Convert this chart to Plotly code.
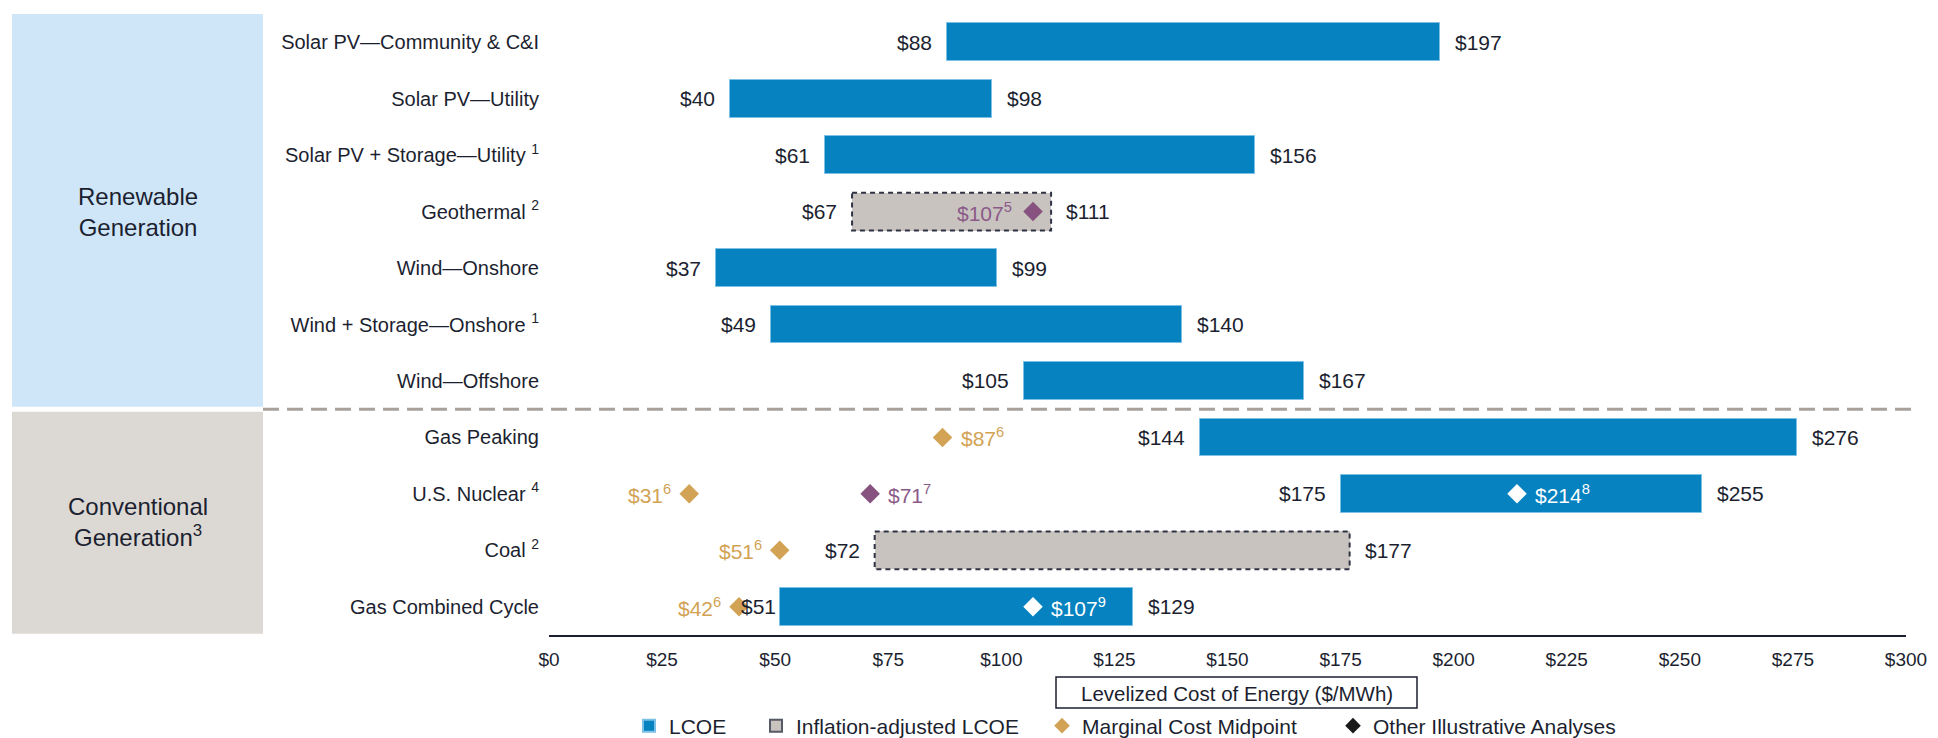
import plotly.graph_objects as go

# ---------------- data ----------------
categories = ["Solar PV—Community & C&I", "Solar PV—Utility", "Solar PV + Storage—Utility",
              "Geothermal", "Wind—Onshore", "Wind + Storage—Onshore", "Wind—Offshore",
              "Gas Peaking", "U.S. Nuclear", "Coal", "Gas Combined Cycle"]
category_notes = ["", "", "1", "2", "", "1", "", "", "4", "2", ""]
lcoe_low = [88, 40, 61, 67, 37, 49, 105, 144, 175, 72, 51]
lcoe_high = [197, 98, 156, 111, 99, 140, 167, 276, 255, 177, 129]
inflation_adjusted = [False, False, False, True, False, False, False, False, False, True, False]

marginal_rows = ["Gas Peaking", "U.S. Nuclear", "Coal", "Gas Combined Cycle"]
marginal_values = [87, 31, 51, 42]
marginal_notes = ["6", "6", "6", "6"]
marginal_label_side = ["right", "left", "left", "left"]

other_rows = ["Geothermal", "U.S. Nuclear", "U.S. Nuclear", "Gas Combined Cycle"]
other_values = [107, 71, 214, 107]
other_notes = ["5", "7", "8", "9"]
other_label_side = ["left", "right", "right", "right"]

group_names = ["Renewable<br>Generation", "Conventional<br>Generation<sup>3</sup>"]
group_sizes = [7, 4]

x_ticks = list(range(0, 301, 25))
x_tick_labels = [f"${v}" for v in x_ticks]
axis_title = "Levelized Cost of Energy ($/MWh)"
legend_names = ["LCOE", "Inflation-adjusted LCOE", "Marginal Cost Midpoint", "Other Illustrative Analyses"]

# ---------------- style ----------------
W, H = 1938, 738
M_L, M_R, M_T, M_B = 549, 32, 14, 103
PW = W - M_L - M_R
PH = H - M_T - M_B


def px_x(px):
    return (px - M_L) / PW


def px_y(py):
    return (H - M_B - py) / PH


FONT = "Liberation Sans, Arial, sans-serif"
DARK = "#1C1F30"
BLUE = "#0582BF"
BLUE_EDGE = "#7DC0E6"
GRAY = "#C8C3BE"
GOLD = "#D2A354"
PURPLE = "#87527F"
PURPLE_TXT = "#8B5A88"
REN_BG = "#CFE6F9"
CONV_BG = "#DCD9D5"
SEP = "#A8A19B"
BAR_W = 0.67
LEGEND_LEFT_PX = [629, 756, 1042, 1333]   # left edges of the four legend entries
LEGEND_KEYS = ["legend", "legend2", "legend3", "legend4"]

rows = list(range(len(categories)))
row_of = {c: i for i, c in enumerate(categories)}
ticktext = [c + (f" <sup>{n}</sup>" if n else "") for c, n in zip(categories, category_notes)]

fig = go.Figure()

# solid LCOE bars
solid = [i for i in rows if not inflation_adjusted[i]]
fig.add_trace(go.Bar(
    orientation="h", y=solid,
    x=[lcoe_high[i] - lcoe_low[i] for i in solid],
    base=[lcoe_low[i] for i in solid],
    width=BAR_W, name=legend_names[0], legend=LEGEND_KEYS[0],
    marker=dict(color=BLUE, line=dict(color=BLUE_EDGE, width=1)),
    hoverinfo="skip",
))

# inflation-adjusted bars
infl = [i for i in rows if inflation_adjusted[i]]
fig.add_trace(go.Bar(
    orientation="h", y=infl,
    x=[lcoe_high[i] - lcoe_low[i] for i in infl],
    base=[lcoe_low[i] for i in infl],
    width=BAR_W, name=legend_names[1], showlegend=False,
    marker=dict(color=GRAY, line=dict(width=0)), hoverinfo="skip",
))
for i in infl:
    fig.add_shape(type="rect", xref="x", yref="y",
                  x0=lcoe_low[i], x1=lcoe_high[i], y0=i - BAR_W / 2, y1=i + BAR_W / 2,
                  line=dict(color="#2F3344", width=2, dash="5px,4px"), layer="above")
fig.add_trace(go.Scatter(
    x=[None], y=[None], mode="markers", name=legend_names[1], legend=LEGEND_KEYS[1],
    marker=dict(symbol="square", size=12, color=GRAY, line=dict(color="#555a66", width=1)),
))

# marginal cost markers
fig.add_trace(go.Scatter(
    x=marginal_values, y=[row_of[r] for r in marginal_rows], mode="markers",
    name=legend_names[2], legend=LEGEND_KEYS[2], hoverinfo="skip",
    marker=dict(symbol="diamond", size=15, color=GOLD, line=dict(width=0)),
))


# other illustrative analyses markers
def inside_solid(r, v):
    i = row_of[r]
    return (not inflation_adjusted[i]) and lcoe_low[i] < v < lcoe_high[i]


other_colors = ["white" if inside_solid(r, v) else PURPLE for r, v in zip(other_rows, other_values)]
fig.add_trace(go.Scatter(
    x=other_values, y=[row_of[r] for r in other_rows], mode="markers",
    showlegend=False, hoverinfo="skip",
    marker=dict(symbol="diamond", size=15, color=other_colors, line=dict(width=0)),
))
fig.add_trace(go.Scatter(
    x=[None], y=[None], mode="markers", name=legend_names[3], legend=LEGEND_KEYS[3],
    marker=dict(symbol="diamond", size=12, color="#1A1A1A"),
))

VAL_FONT = dict(family=FONT, size=21, color=DARK)


def low_gap(i):
    near = [v for r, v in zip(marginal_rows, marginal_values)
            if row_of[r] == i and 0 < lcoe_low[i] - v < 12]
    return 2 if near else 13


# LCOE value labels
for i in rows:
    fig.add_annotation(x=lcoe_low[i], y=i, text=f"${lcoe_low[i]}", showarrow=False,
                       xanchor="right", xshift=-low_gap(i), font=VAL_FONT)
    fig.add_annotation(x=lcoe_high[i], y=i, text=f"${lcoe_high[i]}", showarrow=False,
                       xanchor="left", xshift=13, font=VAL_FONT)

MK_GAP = 16
for r, v, n, s in zip(marginal_rows, marginal_values, marginal_notes, marginal_label_side):
    fig.add_annotation(x=v, y=row_of[r], text=f"${v}<sup>{n}</sup>", showarrow=False,
                       xanchor="left" if s == "right" else "right",
                       xshift=MK_GAP if s == "right" else -MK_GAP,
                       font=dict(family=FONT, size=21, color=GOLD))
for r, v, n, s, c in zip(other_rows, other_values, other_notes, other_label_side, other_colors):
    fig.add_annotation(x=v, y=row_of[r], text=f"${v}<sup>{n}</sup>", showarrow=False,
                       xanchor="left" if s == "right" else "right",
                       xshift=MK_GAP if s == "right" else -MK_GAP - 3,
                       font=dict(family=FONT, size=21, color=("white" if c == "white" else PURPLE_TXT)))

# group panels on the left
start = 0
GAP = 0.045
for gi, (g, n) in enumerate(zip(group_names, group_sizes)):
    y0 = start - 0.5 + (GAP if gi > 0 else -0.03)
    y1 = start + n - 0.5 - (GAP if gi < len(group_sizes) - 1 else 0.02)
    fig.add_shape(type="rect", xref="paper", yref="y", x0=px_x(12), x1=px_x(263), y0=y0, y1=y1,
                  fillcolor=REN_BG if gi == 0 else CONV_BG, line=dict(width=0), layer="below")
    fig.add_annotation(xref="paper", yref="y", x=px_x(137.5), y=start + (n - 1) / 2, text=g,
                       showarrow=False, align="center", xanchor="center", yanchor="middle",
                       font=dict(family=FONT, size=24, color=DARK))
    if gi < len(group_sizes) - 1:
        fig.add_shape(type="line", xref="paper", yref="y", x0=px_x(263), x1=px_x(1912),
                      y0=start + n - 0.5, y1=start + n - 0.5,
                      line=dict(color=SEP, width=3, dash="16px,8px"))
    start += n

# axis title box
fig.add_shape(type="rect", xref="paper", yref="paper", x0=px_x(1056), x1=px_x(1417),
              y0=px_y(708), y1=px_y(677), line=dict(color=DARK, width=1.5))
fig.add_annotation(xref="paper", yref="paper", x=px_x(1236.5), y=px_y(693), text=axis_title,
                   showarrow=False, xanchor="center", yanchor="middle",
                   font=dict(family=FONT, size=20.5, color=DARK))

legend_style = dict(orientation="h", xanchor="left", yanchor="middle", y=px_y(726),
                    font=dict(family=FONT, size=21, color=DARK), itemsizing="constant",
                    bgcolor="rgba(0,0,0,0)", borderwidth=0)
legends = {k: dict(legend_style, x=px_x(lx)) for k, lx in zip(LEGEND_KEYS, LEGEND_LEFT_PX)}

fig.update_layout(
    width=W, height=H,
    margin=dict(l=M_L, r=M_R, t=M_T, b=M_B, pad=0, autoexpand=False),
    paper_bgcolor="white", plot_bgcolor="white",
    barmode="overlay", bargap=0,
    font=dict(family=FONT, color=DARK),
    showlegend=True,
    xaxis=dict(range=[x_ticks[0], x_ticks[-1]], tickvals=x_ticks, ticktext=x_tick_labels,
               showgrid=False, zeroline=False, showline=True, linecolor=DARK, linewidth=1.5,
               ticks="", tickfont=dict(family=FONT, size=19, color=DARK), ticklabelstandoff=6,
               fixedrange=True, automargin=False),
    yaxis=dict(range=[len(categories) - 0.5, -0.5], tickvals=rows, ticktext=ticktext,
               showgrid=False, zeroline=False, showline=False, ticks="",
               tickfont=dict(family=FONT, size=20, color=DARK), ticklabelstandoff=9,
               fixedrange=True, automargin=False),
    **legends,
)

fig.write_html("out.html", config={"displayModeBar": False},
               post_script="document.body.style.margin='0px';")
